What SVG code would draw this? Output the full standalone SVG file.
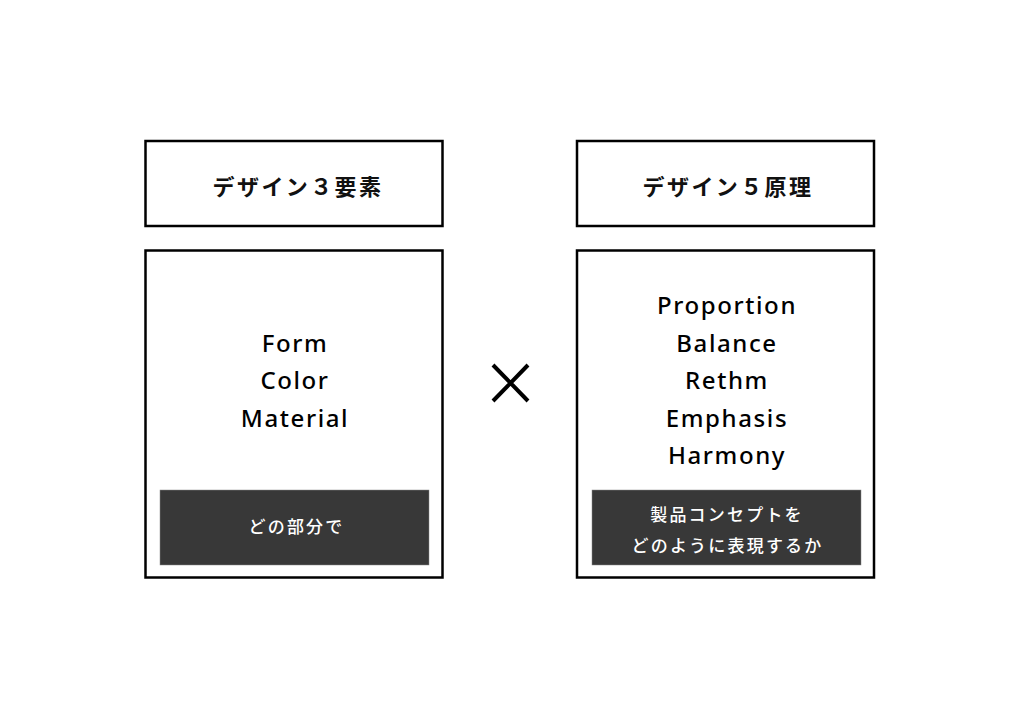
<svg xmlns="http://www.w3.org/2000/svg" width="1024" height="724" viewBox="0 0 1024 724">
<style>
.box{fill:#fff;stroke:#000;stroke-width:2.5}
.dark{fill:#383838;stroke:#888;stroke-width:0.5}
.h{font-family:"Noto Sans CJK JP","Noto Sans",sans-serif;font-size:22px;font-weight:700;letter-spacing:2.4px;fill:#111;text-anchor:middle}
.b{font-family:"Noto Sans","Noto Sans CJK JP",sans-serif;font-size:24px;font-weight:500;letter-spacing:1.6px;fill:#000;text-anchor:middle}
.w{font-family:"Noto Sans CJK JP",sans-serif;font-size:17px;font-weight:500;letter-spacing:2.2px;fill:#fff;text-anchor:middle}
</style>
<rect width="1024" height="724" fill="#fff"/>
<g id="left-title">
<rect class="box" x="145.5" y="141" width="297" height="85"/>
<text class="h" x="298" y="195">デザイン３要素</text>
</g>
<g id="left-body">
<rect class="box" x="145.5" y="250.5" width="297" height="327"/>
<text class="b" x="295" y="352">Form</text>
<text class="b" x="295" y="389">Color</text>
<text class="b" x="295" y="427">Material</text>
<rect class="dark" x="160" y="490" width="269" height="75"/>
<text class="w" x="296.5" y="533">どの部分で</text>
</g>
<g id="right-title">
<rect class="box" x="577" y="141" width="297" height="85"/>
<text class="h" x="728" y="195">デザイン５原理</text>
</g>
<g id="right-body">
<rect class="box" x="577" y="250.5" width="297" height="327"/>
<text class="b" x="727" y="314">Proportion</text>
<text class="b" x="727" y="352">Balance</text>
<text class="b" x="727" y="389">Rethm</text>
<text class="b" x="727" y="427">Emphasis</text>
<text class="b" x="727" y="464">Harmony</text>
<rect class="dark" x="592" y="490" width="269" height="75"/>
<text class="w" x="727" y="521">製品コンセプトを</text>
<text class="w" x="727.5" y="552">どのように表現するか</text>
</g>
<g id="cross">
<path d="M493 365 L528 401 M528 365 L493 401" stroke="#000" stroke-width="4" fill="none"/>
</g>
</svg>
